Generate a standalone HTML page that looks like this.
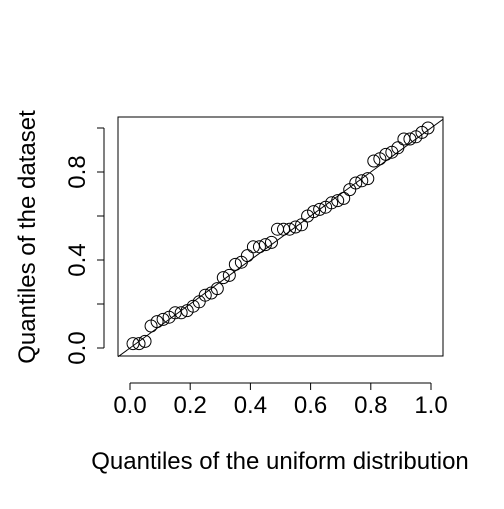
<!DOCTYPE html>
<html><head><meta charset="utf-8"><style>
body{margin:0;background:#fff}
svg text{font-family:"Liberation Sans",Arial,sans-serif;font-size:24px;fill:#000}
</style></head><body>
<svg id="c" width="504" height="504" xmlns="http://www.w3.org/2000/svg">
<rect x="118" y="117" width="325" height="239" fill="none" stroke="#000" stroke-width="1"/>
<g id="marks"></g>
<text x="280" y="469" text-anchor="middle">Quantiles of the uniform distribution</text>
<text transform="translate(35,237) rotate(-90)" text-anchor="middle">Quantiles of the dataset</text>
</svg>
<script>
const xTicks=[0,0.2,0.4,0.6,0.8,1.0];
const xTickLabels=["0.0","0.2","0.4","0.6","0.8","1.0"];
const yTicks=[0,0.2,0.4,0.6,0.8,1.0];
const yTickLabels=["0.0","","0.4","","0.8",""];
const sampleQuantiles=[0.02,0.02,0.03,0.10,0.12,0.13,0.14,0.16,0.16,0.17,0.19,0.21,0.24,0.25,0.27,0.32,0.33,0.38,0.39,0.42,0.46,0.46,0.47,0.48,0.54,0.54,0.54,0.55,0.56,0.60,0.62,0.63,0.64,0.66,0.67,0.68,0.72,0.75,0.76,0.77,0.85,0.86,0.88,0.89,0.91,0.95,0.95,0.96,0.98,1.00];
const NS="http://www.w3.org/2000/svg";
const sx=v=>130+v*301, sy=v=>348-v*220;
const svg=document.getElementById('c'), g=document.getElementById('marks');
function mk(t,a){const e=document.createElementNS(NS,t);for(const k in a)e.setAttribute(k,a[k]);return e;}
const xa=mk('line',{x1:sx(xTicks[0]),x2:sx(xTicks[xTicks.length-1]),y1:383,y2:383,stroke:'#000'});


svg.appendChild(xa);
xTicks.forEach((v,i)=>{
 const t=mk('line',{x1:sx(v),x2:sx(v),y1:383,y2:390,stroke:'#000'});
 
 
 svg.appendChild(t);
 const l=mk('text',{x:sx(v),y:413,'text-anchor':'middle'});l.textContent=xTickLabels[i];
 
 
 svg.appendChild(l);
});
const ya=mk('line',{x1:104,x2:104,y1:sy(yTicks[0]),y2:sy(yTicks[yTicks.length-1]),stroke:'#000'});


svg.appendChild(ya);
yTicks.forEach((v,i)=>{
 const t=mk('line',{x1:97,x2:104,y1:sy(v),y2:sy(v),stroke:'#000'});
 
 
 svg.appendChild(t);
 if(yTickLabels[i]){
 const l=mk('text',{transform:`translate(85,${sy(v)}) rotate(-90)`,'text-anchor':'middle'});l.textContent=yTickLabels[i];
 
 
 svg.appendChild(l);}
});
const ln=mk('line',{x1:118,y1:sy((118-130)/301),x2:443,y2:sy((443-130)/301),stroke:'#000','stroke-width':1});


g.appendChild(ln);
const n=sampleQuantiles.length;
sampleQuantiles.forEach((v,i)=>{
 const q=(i+0.5)/n;
 const c=mk('circle',{cx:sx(q),cy:sy(v),r:6,fill:'none',stroke:'#000','stroke-width':1});
 
 
 g.appendChild(c);
});
</script>
</body></html>
